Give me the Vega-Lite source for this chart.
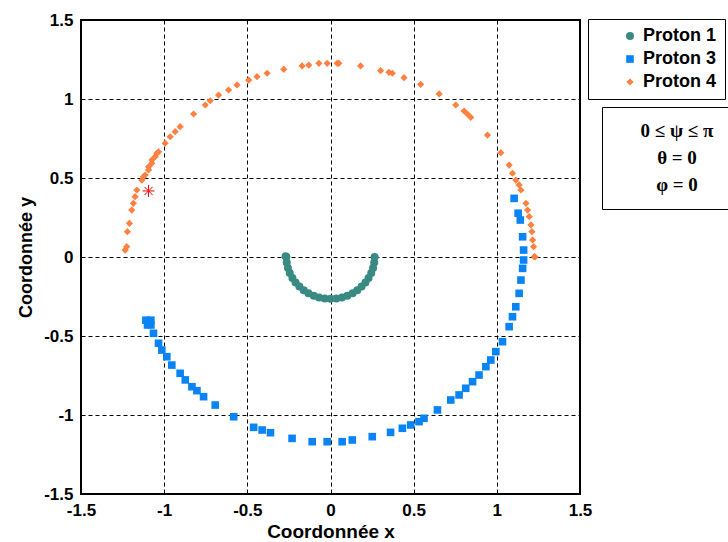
{
  "$schema": "https://vega.github.io/schema/vega-lite/v6.json",
  "width": 499,
  "height": 474,
  "autosize": {"type": "none"},
  "padding": {"left": 81, "top": 20, "right": 148, "bottom": 48},
  "background": "white",
  "config": {
    "view": {"stroke": "black", "strokeWidth": 2},
    "font": "Liberation Sans",
    "axis": {
      "labelFont": "Liberation Sans", "labelFontSize": 17, "labelFontWeight": "bold", "labelColor": "black",
      "grid": true, "gridColor": "black", "gridDash": [4, 3], "gridOpacity": 1, "gridWidth": 1,
      "domain": false, "ticks": false,
      "titleFont": "Liberation Sans", "titleFontSize": 18, "titleFontWeight": "bold", "titleColor": "black",
      "labelFlush": false, "labelOverlap": false
    }
  },
  "datasets": {
    "pts": [
      {"series": "Proton 1", "x": -0.27, "y": 0.005},
      {"series": "Proton 1", "x": -0.265, "y": 0.0},
      {"series": "Proton 1", "x": -0.263, "y": -0.035},
      {"series": "Proton 1", "x": -0.256, "y": -0.069},
      {"series": "Proton 1", "x": -0.245, "y": -0.101},
      {"series": "Proton 1", "x": -0.229, "y": -0.133},
      {"series": "Proton 1", "x": -0.21, "y": -0.161},
      {"series": "Proton 1", "x": -0.187, "y": -0.187},
      {"series": "Proton 1", "x": -0.161, "y": -0.21},
      {"series": "Proton 1", "x": -0.133, "y": -0.229},
      {"series": "Proton 1", "x": -0.101, "y": -0.245},
      {"series": "Proton 1", "x": -0.069, "y": -0.256},
      {"series": "Proton 1", "x": -0.035, "y": -0.263},
      {"series": "Proton 1", "x": 0.0, "y": -0.265},
      {"series": "Proton 1", "x": 0.035, "y": -0.263},
      {"series": "Proton 1", "x": 0.069, "y": -0.256},
      {"series": "Proton 1", "x": 0.101, "y": -0.245},
      {"series": "Proton 1", "x": 0.133, "y": -0.229},
      {"series": "Proton 1", "x": 0.161, "y": -0.21},
      {"series": "Proton 1", "x": 0.187, "y": -0.187},
      {"series": "Proton 1", "x": 0.21, "y": -0.161},
      {"series": "Proton 1", "x": 0.229, "y": -0.133},
      {"series": "Proton 1", "x": 0.245, "y": -0.101},
      {"series": "Proton 1", "x": 0.256, "y": -0.069},
      {"series": "Proton 1", "x": 0.263, "y": -0.035},
      {"series": "Proton 1", "x": 0.265, "y": 0.0},

      {"series": "Proton 3", "x": -1.11, "y": -0.4},
      {"series": "Proton 3", "x": -1.08, "y": -0.4},
      {"series": "Proton 3", "x": -1.1, "y": -0.43},
      {"series": "Proton 3", "x": -1.08, "y": -0.43},
      {"series": "Proton 3", "x": -1.064, "y": -0.483},
      {"series": "Proton 3", "x": -1.034, "y": -0.546},
      {"series": "Proton 3", "x": -1.014, "y": -0.589},
      {"series": "Proton 3", "x": -0.984, "y": -0.631},
      {"series": "Proton 3", "x": -0.954, "y": -0.684},
      {"series": "Proton 3", "x": -0.904, "y": -0.736},
      {"series": "Proton 3", "x": -0.873, "y": -0.778},
      {"series": "Proton 3", "x": -0.833, "y": -0.821},
      {"series": "Proton 3", "x": -0.803, "y": -0.846},
      {"series": "Proton 3", "x": -0.763, "y": -0.884},
      {"series": "Proton 3", "x": -0.693, "y": -0.937},
      {"series": "Proton 3", "x": -0.582, "y": -1.011},
      {"series": "Proton 3", "x": -0.462, "y": -1.078},
      {"series": "Proton 3", "x": -0.411, "y": -1.095},
      {"series": "Proton 3", "x": -0.361, "y": -1.112},
      {"series": "Proton 3", "x": -0.231, "y": -1.148},
      {"series": "Proton 3", "x": -0.11, "y": -1.169},
      {"series": "Proton 3", "x": -0.02, "y": -1.169},
      {"series": "Proton 3", "x": 0.07, "y": -1.169},
      {"series": "Proton 3", "x": 0.131, "y": -1.158},
      {"series": "Proton 3", "x": 0.251, "y": -1.137},
      {"series": "Proton 3", "x": 0.361, "y": -1.11},
      {"series": "Proton 3", "x": 0.432, "y": -1.084},
      {"series": "Proton 3", "x": 0.482, "y": -1.063},
      {"series": "Proton 3", "x": 0.532, "y": -1.042},
      {"series": "Proton 3", "x": 0.562, "y": -1.021},
      {"series": "Proton 3", "x": 0.643, "y": -0.968},
      {"series": "Proton 3", "x": 0.723, "y": -0.905},
      {"series": "Proton 3", "x": 0.773, "y": -0.873},
      {"series": "Proton 3", "x": 0.813, "y": -0.831},
      {"series": "Proton 3", "x": 0.854, "y": -0.789},
      {"series": "Proton 3", "x": 0.893, "y": -0.747},
      {"series": "Proton 3", "x": 0.934, "y": -0.694},
      {"series": "Proton 3", "x": 0.964, "y": -0.652},
      {"series": "Proton 3", "x": 0.994, "y": -0.599},
      {"series": "Proton 3", "x": 1.034, "y": -0.536},
      {"series": "Proton 3", "x": 1.074, "y": -0.441},
      {"series": "Proton 3", "x": 1.094, "y": -0.378},
      {"series": "Proton 3", "x": 1.114, "y": -0.315},
      {"series": "Proton 3", "x": 1.134, "y": -0.23},
      {"series": "Proton 3", "x": 1.145, "y": -0.146},
      {"series": "Proton 3", "x": 1.155, "y": -0.072},
      {"series": "Proton 3", "x": 1.161, "y": -0.019},
      {"series": "Proton 3", "x": 1.161, "y": 0.044},
      {"series": "Proton 3", "x": 1.155, "y": 0.128},
      {"series": "Proton 3", "x": 1.141, "y": 0.234},
      {"series": "Proton 3", "x": 1.128, "y": 0.277},
      {"series": "Proton 3", "x": 1.104, "y": 0.371},

      {"series": "Proton 4", "x": -1.235, "y": 0.044},
      {"series": "Proton 4", "x": -1.225, "y": 0.065},
      {"series": "Proton 4", "x": -1.221, "y": 0.16},
      {"series": "Proton 4", "x": -1.209, "y": 0.213},
      {"series": "Proton 4", "x": -1.195, "y": 0.297},
      {"series": "Proton 4", "x": -1.185, "y": 0.34},
      {"series": "Proton 4", "x": -1.175, "y": 0.382},
      {"series": "Proton 4", "x": -1.164, "y": 0.424},
      {"series": "Proton 4", "x": -1.134, "y": 0.487},
      {"series": "Proton 4", "x": -1.125, "y": 0.508},
      {"series": "Proton 4", "x": -1.114, "y": 0.519},
      {"series": "Proton 4", "x": -1.094, "y": 0.551},
      {"series": "Proton 4", "x": -1.094, "y": 0.571},
      {"series": "Proton 4", "x": -1.074, "y": 0.593},
      {"series": "Proton 4", "x": -1.074, "y": 0.614},
      {"series": "Proton 4", "x": -1.054, "y": 0.635},
      {"series": "Proton 4", "x": -1.044, "y": 0.656},
      {"series": "Proton 4", "x": -1.034, "y": 0.666},
      {"series": "Proton 4", "x": -0.994, "y": 0.72},
      {"series": "Proton 4", "x": -0.964, "y": 0.761},
      {"series": "Proton 4", "x": -0.934, "y": 0.793},
      {"series": "Proton 4", "x": -0.904, "y": 0.825},
      {"series": "Proton 4", "x": -0.823, "y": 0.905},
      {"series": "Proton 4", "x": -0.753, "y": 0.962},
      {"series": "Proton 4", "x": -0.723, "y": 0.989},
      {"series": "Proton 4", "x": -0.673, "y": 1.025},
      {"series": "Proton 4", "x": -0.613, "y": 1.057},
      {"series": "Proton 4", "x": -0.562, "y": 1.089},
      {"series": "Proton 4", "x": -0.492, "y": 1.12},
      {"series": "Proton 4", "x": -0.442, "y": 1.141},
      {"series": "Proton 4", "x": -0.381, "y": 1.163},
      {"series": "Proton 4", "x": -0.281, "y": 1.188},
      {"series": "Proton 4", "x": -0.171, "y": 1.209},
      {"series": "Proton 4", "x": -0.131, "y": 1.215},
      {"series": "Proton 4", "x": -0.07, "y": 1.226},
      {"series": "Proton 4", "x": -0.02, "y": 1.226},
      {"series": "Proton 4", "x": 0.04, "y": 1.226},
      {"series": "Proton 4", "x": 0.05, "y": 1.226},
      {"series": "Proton 4", "x": 0.181, "y": 1.209},
      {"series": "Proton 4", "x": 0.301, "y": 1.179},
      {"series": "Proton 4", "x": 0.351, "y": 1.169},
      {"series": "Proton 4", "x": 0.372, "y": 1.163},
      {"series": "Proton 4", "x": 0.442, "y": 1.135},
      {"series": "Proton 4", "x": 0.542, "y": 1.093},
      {"series": "Proton 4", "x": 0.653, "y": 1.032},
      {"series": "Proton 4", "x": 0.753, "y": 0.962},
      {"series": "Proton 4", "x": 0.803, "y": 0.924},
      {"series": "Proton 4", "x": 0.823, "y": 0.905},
      {"series": "Proton 4", "x": 0.843, "y": 0.884},
      {"series": "Proton 4", "x": 0.944, "y": 0.772},
      {"series": "Proton 4", "x": 1.024, "y": 0.66},
      {"series": "Proton 4", "x": 1.074, "y": 0.582},
      {"series": "Proton 4", "x": 1.094, "y": 0.53},
      {"series": "Proton 4", "x": 1.114, "y": 0.487},
      {"series": "Proton 4", "x": 1.134, "y": 0.456},
      {"series": "Proton 4", "x": 1.145, "y": 0.424},
      {"series": "Proton 4", "x": 1.175, "y": 0.34},
      {"series": "Proton 4", "x": 1.185, "y": 0.297},
      {"series": "Proton 4", "x": 1.195, "y": 0.255},
      {"series": "Proton 4", "x": 1.205, "y": 0.203},
      {"series": "Proton 4", "x": 1.211, "y": 0.16},
      {"series": "Proton 4", "x": 1.215, "y": 0.108},
      {"series": "Proton 4", "x": 1.221, "y": 0.065},
      {"series": "Proton 4", "x": 1.225, "y": 0.002},
      {"series": "Proton 4", "x": 1.23, "y": 0.0}
    ],
    "star": [{"x": -1.094, "y": 0.418}],
    "cond": [{"cond": "0 ≤ ψ ≤ π"}, {"cond": "θ = 0"}, {"cond": "φ = 0"}]
  },
  "layer": [
    {
      "data": {"name": "pts"},
      "mark": {"type": "point", "filled": true, "opacity": 1},
      "encoding": {
        "x": {"field": "x", "type": "quantitative",
              "scale": {"domain": [-1.5, 1.5], "nice": false, "zero": false},
              "axis": {"values": [-1.5, -1, -0.5, 0, 0.5, 1, 1.5], "labelExpr": "'' + datum.value", "labelPadding": 8, "titlePadding": 4, "title": "Coordonnée x", "titleFontSize": 19}},
        "y": {"field": "y", "type": "quantitative",
              "scale": {"domain": [-1.5, 1.5], "nice": false, "zero": false},
              "axis": {"values": [-1.5, -1, -0.5, 0, 0.5, 1, 1.5], "labelExpr": "'' + datum.value", "labelPadding": 8, "titlePadding": 8, "title": "Coordonnée y"}},
        "color": {"field": "series", "type": "nominal",
                  "scale": {"domain": ["Proton 1", "Proton 3", "Proton 4"], "range": ["#3A8A84", "#0A84F5", "#FF8040"]},
                  "legend": {"title": null, "orient": "none", "legendX": 507, "legendY": -1, "padding": 8,
                             "strokeColor": "black", "fillColor": "white",
                             "labelFont": "Liberation Sans", "labelFontSize": 18, "labelFontWeight": "bold", "labelColor": "black",
                             "symbolSize": 170, "symbolOffset": 25, "labelOffset": 4, "rowPadding": 5, "symbolStrokeWidth": 0}},
        "shape": {"field": "series", "type": "nominal",
                  "scale": {"domain": ["Proton 1", "Proton 3", "Proton 4"], "range": ["circle", "square", "diamond"]}},
        "size": {"field": "series", "type": "nominal", "legend": null,
                 "scale": {"domain": ["Proton 1", "Proton 3", "Proton 4"], "range": [64, 52, 100]}}
      }
    },
    {
      "data": {"name": "star"},
      "mark": {"type": "point", "filled": false, "shape": "M-1,0L1,0M0,-1L0,1M-0.7,-0.7L0.7,0.7M-0.7,0.7L0.7,-0.7", "size": 144, "stroke": "#FF0000", "strokeWidth": 1, "opacity": 1},
      "encoding": {
        "x": {"field": "x", "type": "quantitative"},
        "y": {"field": "y", "type": "quantitative"}
      }
    },
    {
      "data": {"name": "cond"},
      "mark": {"type": "point", "opacity": 0},
      "encoding": {
        "fill": {"field": "cond", "type": "nominal",
                 "scale": {"domain": ["0 ≤ ψ ≤ π", "θ = 0", "φ = 0"], "range": ["white", "white", "white"]},
                 "legend": {"title": null, "orient": "none", "legendX": 521, "legendY": 87, "padding": 14,
                            "strokeColor": "black", "fillColor": "white",
                            "labelFont": "Liberation Serif", "labelFontSize": 19, "labelFontWeight": "bold", "labelColor": "black",
                            "labelAlign": "center", "labelOffset": 42, "symbolSize": 0, "symbolStrokeWidth": 0, "rowPadding": 7,
                            "values": ["0 ≤ ψ ≤ π", "θ = 0", "φ = 0"]}}
      }
    }
  ]
}
